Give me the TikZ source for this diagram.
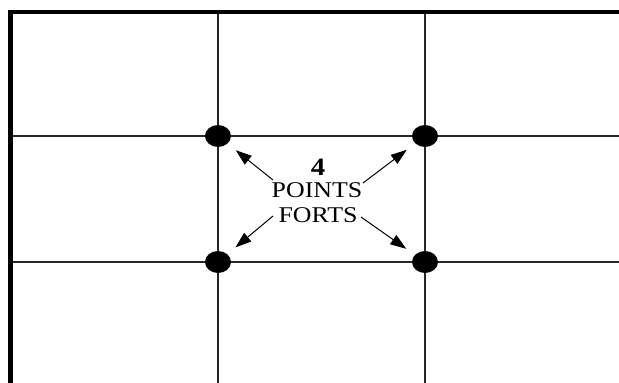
\documentclass[tikz,border=0pt]{standalone}
\usepackage{fontspec}
\setmainfont{Liberation Serif}
\newfontfamily\lblfont[FakeStretch=1.15]{Liberation Serif}
\usetikzlibrary{arrows.meta,shapes.geometric}
\begin{document}
\begin{tikzpicture}[x=1pt,y=-1pt,
  gridline/.style={line width=1.5pt,draw=black!85},
  border/.style={line width=4.5pt,draw=black,line join=miter},
  dotnode/.style={ellipse,fill=black,minimum width=26pt,minimum height=22pt,inner sep=0pt},
  lbl/.style={inner sep=0pt,anchor=base,font=\lblfont\fontsize{22.5}{25}\selectfont},
  arr/.style={line width=1pt,draw=black,-{Triangle[length=16pt,width=11pt]},shorten >=10.5pt}]
\useasboundingbox (0,0) rectangle (619,383);
\fill[white] (0,0) rectangle (619,383);
% grid
\draw[gridline] (218,12) -- (218,383);
\draw[gridline] (425,12) -- (425,383);
\draw[gridline] (10,136) -- (619,136);
\draw[gridline] (10,262) -- (619,262);
% border
\draw[border] (10.25,383) -- (10.25,12) -- (619,12);
% dots
\node[dotnode] (d1) at (218,136) {};
\node[dotnode] (d2) at (425,136) {};
\node[dotnode] (d3) at (218,262) {};
\node[dotnode] (d4) at (425,262) {};
% labels
\node[lbl,font=\lblfont\bfseries\fontsize{25}{25}\selectfont] (four) at (318,175) {4};
\node[lbl] (pts) at (317,197) {POINTS};
\node[lbl] (frt) at (318,222) {FORTS};
% arrow tails
\coordinate (tnw) at (273,180);
\coordinate (tne) at (363,183);
\coordinate (tsw) at (273,216);
\coordinate (tse) at (361,217);
\draw[arr] (tnw) -- (d1);
\draw[arr] (tne) -- (d2);
\draw[arr] (tsw) -- (d3);
\draw[arr] (tse) -- (d4);
\end{tikzpicture}
\end{document}
